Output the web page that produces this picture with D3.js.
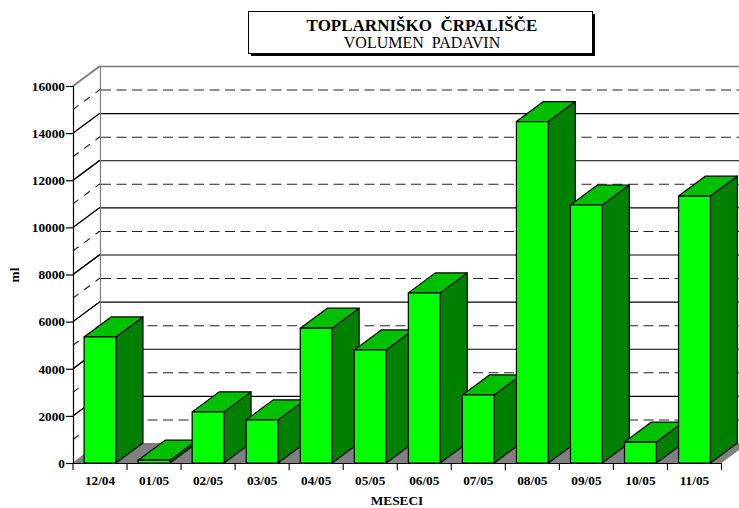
<!DOCTYPE html>
<html><head><meta charset="utf-8">
<script src="https://cdn.jsdelivr.net/npm/d3@7"></script>
<style>html,body{margin:0;background:#fff}svg{display:block}text{font-family:"Liberation Serif",serif}</style>
</head><body><svg id="c" width="739" height="508"></svg>
<script>
const categories=["12/04","01/05","02/05","03/05","04/05","05/05","06/05","07/05","08/05","09/05","10/05","11/05"];
const values=[5350,120,2170,1830,5720,4800,7220,2890,14490,10950,890,11330];
const majorTicks=[0,2000,4000,6000,8000,10000,12000,14000,16000];
const dashedTicks=[1000,3000,5000,7000,9000,11000,13000,15000];
const titleText="TOPLARNIŠKO  ČRPALIŠČE";
const subtitleText="VOLUMEN  PADAVIN";
const xTitle="MESECI", yTitle="ml";

const svg=d3.select("#c");
const dx=27,dy=-20,x0=73,x1=721.5,y0=463,y1=86;
const x=d3.scaleBand().domain(categories).range([x0,x1]).paddingInner(0.41).paddingOuter(0.205);
const band=d3.scaleBand().domain(categories).range([x0,x1]);
const y=d3.scaleLinear().domain([0,16000]).range([y0,y1]);
const right=x1+dx;
const grey="#808080";
const labelSize=13.3;

// floor
svg.append("path").attr("fill",grey).attr("d",d3.line()([[x0,y0],[x0+dx,y0+dy],[right,y0+dy],[x1,y0]])+"Z");

// dashed grid
dashedTicks.forEach(t=>{
  const g=svg.append("g").attr("fill","none").attr("stroke","#222").attr("stroke-width",1.1);
  g.append("line").attr("x1",x0+dx).attr("x2",right).attr("y1",y(t)+dy+.5).attr("y2",y(t)+dy+.5).attr("stroke-dasharray","10 5.5").attr("stroke-dashoffset",-1);
  g.append("line").attr("x1",x0).attr("y1",y(t)).attr("x2",x0+dx).attr("y2",y(t)+dy).attr("stroke-dasharray","7 7");
});
// solid grid
majorTicks.filter(t=>t>0).forEach(t=>{
  const c=t===16000?"#777":"#000", w=t===16000?1.6:1.1;
  const g=svg.append("g").attr("stroke",c).attr("stroke-width",w);
  g.append("line").attr("x1",x0+dx).attr("x2",right).attr("y1",y(t)+dy+.5).attr("y2",y(t)+dy+.5);
  g.append("line").attr("x1",x0).attr("y1",y(t)).attr("x2",x0+dx).attr("y2",y(t)+dy);
});
// wall edge
svg.append("line").attr("x1",x0+dx+.5).attr("x2",x0+dx+.5).attr("y1",y(16000)+dy).attr("y2",y0+dy).attr("stroke",grey).attr("stroke-width",1.2);
majorTicks.filter(t=>t<16000).forEach(t=>{
  svg.append("line").attr("x1",x0).attr("y1",y(t)).attr("x2",x0+dx).attr("y2",y(t)+dy).attr("stroke",t===0?grey:"#000").attr("stroke-width",1.1);
});

// bars
const bars=svg.append("g").selectAll("g").data(categories.map((c,i)=>({c,v:values[i]}))).join("g")
  .attr("stroke","#000").attr("stroke-width",1.2).attr("stroke-linejoin","round");
const L=d=>x(d.c), R=d=>x(d.c)+x.bandwidth(), T=d=>y(d.v);
bars.append("path").attr("fill","#008000").attr("d",d=>d3.line()([[R(d),T(d)],[R(d)+dx,T(d)+dy],[R(d)+dx,y0+dy],[R(d),y0]])+"Z");
bars.append("path").attr("fill","#00c000").attr("d",d=>d3.line()([[L(d),T(d)],[L(d)+dx,T(d)+dy],[R(d)+dx,T(d)+dy],[R(d),T(d)]])+"Z");
bars.append("rect").attr("fill","#00ff00").attr("x",L).attr("y",T).attr("width",x.bandwidth()).attr("height",d=>y0-T(d));

// axes
const yAxis=d3.axisLeft(y).tickValues(majorTicks).tickSize(7).tickPadding(1).tickFormat(d3.format("d"));
const gy=svg.append("g").attr("transform",`translate(${x0},0)`).call(yAxis);
gy.select(".domain").attr("stroke-width",1.2);
gy.selectAll("line").attr("stroke-width",1.2);
gy.selectAll("text").attr("font-size",labelSize).attr("font-weight","bold").attr("fill","#000");

const xAxis=d3.axisBottom(band).tickSize(0).tickPadding(13);
const gx=svg.append("g").attr("transform",`translate(0,${y0})`).call(xAxis);
gx.select(".domain").attr("stroke-width",1.2);
gx.selectAll("text").attr("font-size",labelSize).attr("font-weight","bold").attr("fill","#000");
svg.append("g").selectAll("line").data(d3.range(categories.length+1)).join("line")
  .attr("x1",i=>x0+i*band.step()).attr("x2",i=>x0+i*band.step()).attr("y1",y0).attr("y2",y0+7)
  .attr("stroke","#000").attr("stroke-width",1.1);

svg.append("text").attr("x",397).attr("y",505).attr("text-anchor","middle").attr("font-size",labelSize).attr("font-weight","bold").text(xTitle);
svg.append("text").attr("transform","translate(19,275) rotate(-90)").attr("text-anchor","middle").attr("font-size",labelSize).attr("font-weight","bold").text(yTitle);

// title box
svg.append("rect").attr("x",251).attr("y",14).attr("width",344).attr("height",42).attr("fill","#000");
svg.append("rect").attr("x",248.5).attr("y",11.5).attr("width",344).attr("height",42).attr("fill","#fff").attr("stroke","#000").attr("stroke-width",1);
svg.append("text").attr("x",422).attr("y",30.5).attr("text-anchor","middle").attr("font-size",17).attr("font-weight","bold").style("white-space","pre").text(titleText);
svg.append("text").attr("x",422).attr("y",48).attr("text-anchor","middle").attr("font-size",16).style("white-space","pre").text(subtitleText);
</script></body></html>
